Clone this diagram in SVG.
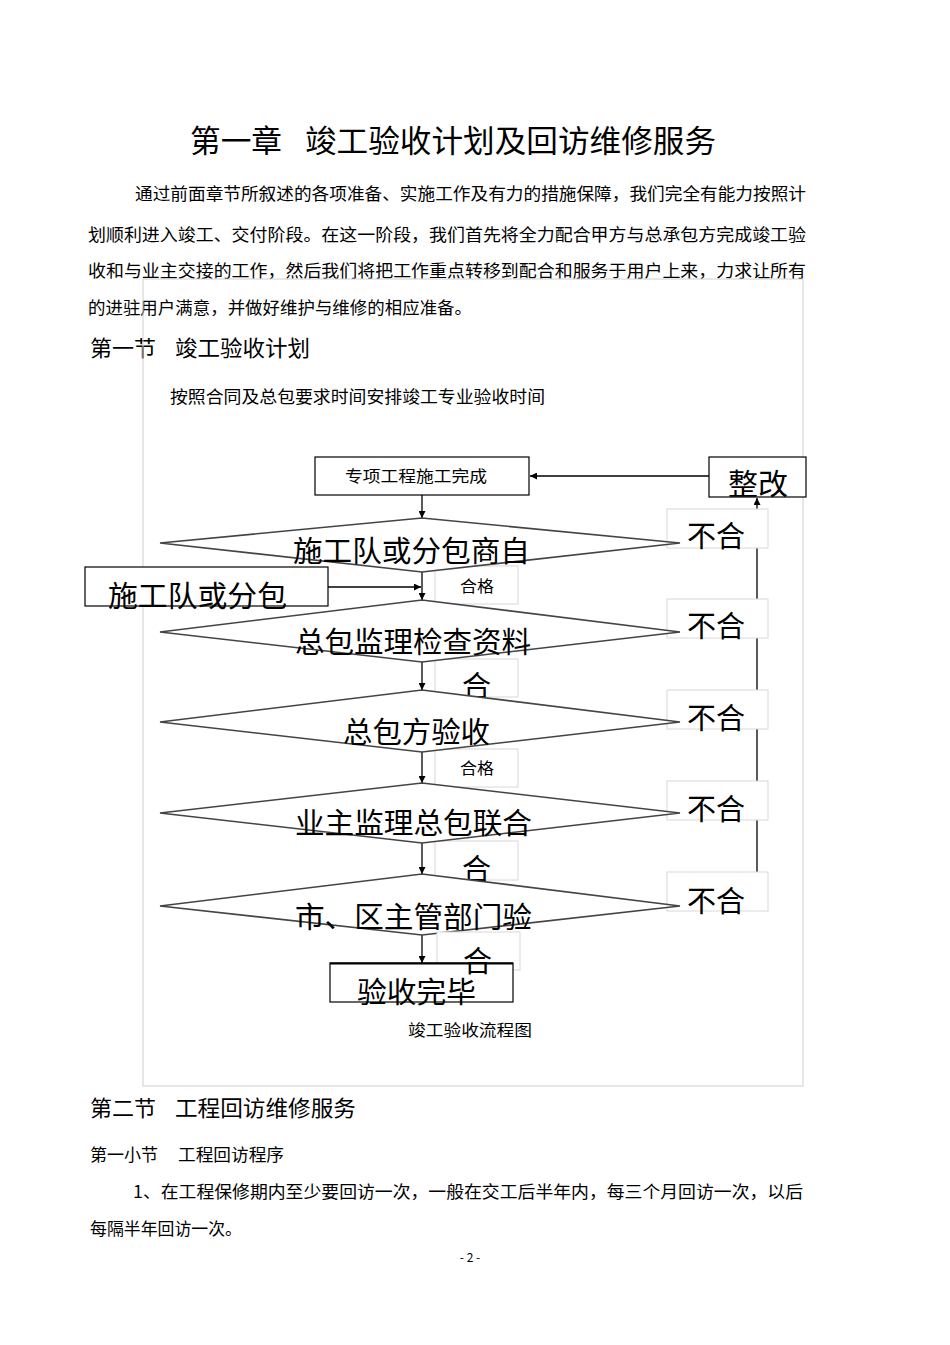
<svg xmlns="http://www.w3.org/2000/svg" width="950" height="1345" viewBox="0 0 950 1345">
<defs>
<marker id="ah" viewBox="0 0 10 10" refX="10" refY="5" markerWidth="7" markerHeight="7" orient="auto" markerUnits="userSpaceOnUse">
<path d="M0,0 L10,5 L0,10 z" fill="#000"/>
</marker>
<style>
text{font-family:"Noto Sans CJK SC","Noto Sans CJK JP",sans-serif;fill:#000}
.body{font-size:17px}
.big{font-size:29px}
.sm{font-size:16px}
.box{fill:#fff;stroke:#000;stroke-width:1.2}
.lbox{fill:#fff;stroke:#d8d8d8;stroke-width:1}
.dia{fill:#fff;stroke:#444;stroke-width:1.6}
.ln{stroke:#000;stroke-width:1.5;fill:none}
.arr{stroke:#000;stroke-width:1.3;fill:none;marker-end:url(#ah)}
</style>
</defs>
<rect width="950" height="1345" fill="#fff"/>

<g id="page-text">
<text x="190" y="152" style="font-size:31px" textLength="92" lengthAdjust="spacingAndGlyphs">第一章</text>
<text x="305" y="152" style="font-size:31px" textLength="411" lengthAdjust="spacingAndGlyphs">竣工验收计划及回访维修服务</text>
<text class="body" x="135" y="200" textLength="671" lengthAdjust="spacingAndGlyphs">通过前面章节所叙述的各项准备、实施工作及有力的措施保障，我们完全有能力按照计</text>
<text class="body" x="88" y="241" textLength="718" lengthAdjust="spacingAndGlyphs">划顺利进入竣工、交付阶段。在这一阶段，我们首先将全力配合甲方与总承包方完成竣工验</text>
<text class="body" x="88" y="277" textLength="718" lengthAdjust="spacingAndGlyphs">收和与业主交接的工作，然后我们将把工作重点转移到配合和服务于用户上来，力求让所有</text>
<text class="body" x="88" y="314" textLength="384" lengthAdjust="spacingAndGlyphs">的进驻用户满意，并做好维护与维修的相应准备。</text>
<text x="90" y="356" style="font-size:22px" textLength="66" lengthAdjust="spacingAndGlyphs">第一节</text>
<text x="175" y="356" style="font-size:22px" textLength="135" lengthAdjust="spacingAndGlyphs">竣工验收计划</text>
<text class="body" x="170" y="403" textLength="375" lengthAdjust="spacingAndGlyphs">按照合同及总包要求时间安排竣工专业验收时间</text>
</g>

<rect id="frame" x="143" y="279" width="660" height="807" fill="none" stroke="#cfcfcf" stroke-width="1"/>

<g id="connectors">
<line class="arr" x1="709" y1="476" x2="530" y2="476"/>
<line class="arr" x1="422" y1="495" x2="422" y2="518"/>
<line class="arr" x1="328" y1="587" x2="421" y2="587"/>
<line class="arr" x1="422" y1="572" x2="422" y2="600"/>
<line class="arr" x1="422" y1="662" x2="422" y2="690"/>
<line class="arr" x1="422" y1="752" x2="422" y2="783"/>
<line class="arr" x1="422" y1="843" x2="422" y2="874"/>
<line class="arr" x1="422" y1="935" x2="422" y2="963"/>
<polyline class="ln" points="680,543 757,543"/>
<polyline class="ln" points="680,632 757,632"/>
<polyline class="ln" points="680,722 757,722"/>
<polyline class="ln" points="680,813 757,813"/>
<polyline class="ln" points="680,906 757,906 757,910"/>
<line class="arr" x1="757" y1="910" x2="757" y2="498"/>
</g>

<g id="n-start">
<rect class="box" x="315" y="457" width="214" height="38"/>
<text class="sm" x="345" y="482" textLength="142" lengthAdjust="spacingAndGlyphs">专项工程施工完成</text>
</g>

<g id="n-rectify">
<rect class="box" x="709" y="457" width="97" height="40"/>
<text class="big" x="728" y="495" textLength="60" lengthAdjust="spacingAndGlyphs">整改</text>
</g>

<g id="n-fail1">
<rect class="lbox" x="667" y="509" width="101" height="39"/>
<text class="big" x="687" y="547" textLength="58" lengthAdjust="spacingAndGlyphs">不合</text>
</g>
<g id="n-fail2">
<rect class="lbox" x="667" y="599" width="101" height="39"/>
<text class="big" x="687" y="637" textLength="58" lengthAdjust="spacingAndGlyphs">不合</text>
</g>
<g id="n-fail3">
<rect class="lbox" x="667" y="690" width="101" height="39"/>
<text class="big" x="687" y="729" textLength="58" lengthAdjust="spacingAndGlyphs">不合</text>
</g>
<g id="n-fail4">
<rect class="lbox" x="667" y="781" width="101" height="39"/>
<text class="big" x="687" y="820" textLength="58" lengthAdjust="spacingAndGlyphs">不合</text>
</g>
<g id="n-fail5">
<rect class="lbox" x="667" y="872" width="101" height="39"/>
<text class="big" x="687" y="912" textLength="58" lengthAdjust="spacingAndGlyphs">不合</text>
</g>

<g id="n-pass1">
<rect class="lbox" x="435" y="566" width="83" height="38"/>
<text class="sm" x="460" y="592" textLength="34" lengthAdjust="spacingAndGlyphs">合格</text>
</g>
<g id="n-pass2">
<rect class="lbox" x="435" y="659" width="83" height="38"/>
<text class="big" x="462" y="697">合</text>
</g>
<g id="n-pass3">
<rect class="lbox" x="435" y="749" width="83" height="38"/>
<text class="sm" x="460" y="774" textLength="34" lengthAdjust="spacingAndGlyphs">合格</text>
</g>
<g id="n-pass4">
<rect class="lbox" x="435" y="841" width="83" height="39"/>
<text class="big" x="462" y="880">合</text>
</g>

<g id="n-d1">
<polygon class="dia" points="160,543 422,518 680,543 422,572"/>
<text class="big" x="293" y="562" textLength="237" lengthAdjust="spacingAndGlyphs">施工队或分包商自</text>
</g>
<g id="n-sub">
<rect class="box" x="85" y="567" width="243" height="39"/>
<text class="big" x="108" y="607" textLength="179" lengthAdjust="spacingAndGlyphs">施工队或分包</text>
</g>
<g id="n-d2">
<polygon class="dia" points="160,632 422,600 680,632 422,662"/>
<text class="big" x="295" y="653" textLength="236" lengthAdjust="spacingAndGlyphs">总包监理检查资料</text>
</g>
<g id="n-d3">
<polygon class="dia" points="160,722 422,690 680,722 422,752"/>
<text class="big" x="343" y="743" textLength="147" lengthAdjust="spacingAndGlyphs">总包方验收</text>
</g>
<g id="n-d4">
<polygon class="dia" points="160,813 422,783 680,813 422,843"/>
<text class="big" x="295" y="834" textLength="237" lengthAdjust="spacingAndGlyphs">业主监理总包联合</text>
</g>
<g id="n-d5">
<polygon class="dia" points="160,906 422,874 680,906 422,935"/>
<text class="big" x="295" y="928" textLength="237" lengthAdjust="spacingAndGlyphs">市、区主管部门验</text>
</g>

<g id="n-pass5">
<rect class="lbox" x="437" y="932" width="83" height="38"/>
</g>
<g id="n-end">
<rect class="box" x="330" y="963" width="183" height="39"/>
<line x1="330" y1="963.5" x2="513" y2="963.5" stroke="#000" stroke-width="2.2"/>
<text class="big" x="357" y="1003" textLength="119" lengthAdjust="spacingAndGlyphs">验收完毕</text>
<text class="big" x="463" y="972">合</text>
</g>

<g id="caption">
<text class="sm" x="408" y="1036" textLength="124" lengthAdjust="spacingAndGlyphs">竣工验收流程图</text>
</g>

<g id="page-text-2">
<text x="90" y="1116" style="font-size:22px" textLength="66" lengthAdjust="spacingAndGlyphs">第二节</text>
<text x="175" y="1116" style="font-size:22px" textLength="181" lengthAdjust="spacingAndGlyphs">工程回访维修服务</text>
<text class="body" x="90" y="1161" textLength="68" lengthAdjust="spacingAndGlyphs">第一小节</text>
<text class="body" x="178" y="1161" textLength="106" lengthAdjust="spacingAndGlyphs">工程回访程序</text>
<text class="body" x="133" y="1198" textLength="670" lengthAdjust="spacingAndGlyphs">1、在工程保修期内至少要回访一次，一般在交工后半年内，每三个月回访一次，以后</text>
<text class="body" x="90" y="1235" textLength="152" lengthAdjust="spacingAndGlyphs">每隔半年回访一次。</text>
<text x="470" y="1262" style="font-size:12px" text-anchor="middle">- 2 -</text>
</g>
</svg>
